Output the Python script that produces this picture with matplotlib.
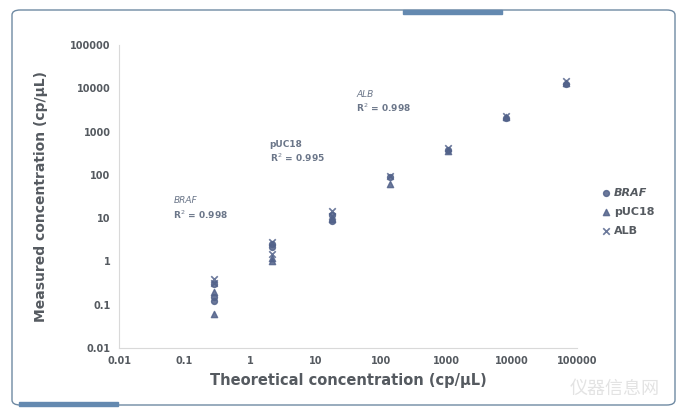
import matplotlib.pyplot as plt
from matplotlib.patches import FancyBboxPatch, Rectangle

# theoretical concentrations (dilution series)
braf_x = [0.28, 0.28, 0.28, 2.2, 2.2, 18, 18, 138, 1050, 8300, 69000]
braf_y = [0.3, 0.15, 0.12, 2.5, 2.2, 12, 8.5, 90, 380, 2100, 12500]

puc_x = [0.28, 0.28, 2.2, 2.2, 18, 138, 1050, 8300, 69000]
puc_y = [0.2, 0.06, 1.2, 1.0, 9.5, 60, 360, 2200, 13000]

alb_x = [0.28, 0.28, 2.2, 2.2, 18, 18, 138, 1050, 8300, 69000]
alb_y = [0.4, 0.32, 2.8, 1.5, 15, 11, 95, 410, 2300, 14500]

ticks = [0.01, 0.1, 1, 10, 100, 1000, 10000, 100000]
tick_labels = ["0.01", "0.1", "1", "10", "100", "1000", "10000", "100000"]

mcol = "#52628a"
tcol = "#555a60"
acol = "#6b7689"

fig = plt.figure(figsize=(6.87, 4.16), dpi=100)

# rounded frame and blue accent bars
fig.patches.append(FancyBboxPatch((12 / 687, 11 / 416), 663 / 687, 395 / 416,
                                  boxstyle="round,pad=0,rounding_size=0.012",
                                  transform=fig.transFigure, fill=False,
                                  edgecolor="#6f8aa3", linewidth=1.0))
fig.patches.append(Rectangle((403 / 687, 402 / 416), 99 / 687, 4 / 416,
                             transform=fig.transFigure, color="#6489b0"))
fig.patches.append(Rectangle((19 / 687, 10 / 416), 99 / 687, 4 / 416,
                             transform=fig.transFigure, color="#6489b0"))

ax = fig.add_axes([119 / 687, 68 / 416, 458 / 687, 303 / 416])
ax.set_xscale("log")
ax.set_yscale("log")
ax.set_xlim(0.01, 100000)
ax.set_ylim(0.01, 100000)

ax.scatter(braf_x, braf_y, marker="o", s=18, color=mcol, alpha=0.85, label="BRAF", zorder=3)
ax.scatter(puc_x, puc_y, marker="^", s=20, color=mcol, alpha=0.85, label="pUC18", zorder=3)
ax.scatter(alb_x, alb_y, marker="x", s=22, color=mcol, linewidths=1.2, alpha=0.85,
           label="ALB", zorder=3)

for s in ["top", "right"]:
    ax.spines[s].set_visible(False)
for s in ["left", "bottom"]:
    ax.spines[s].set_color("#d9d9d9")
ax.set_xticks(ticks)
ax.set_xticklabels(tick_labels)
ax.set_yticks(ticks)
ax.set_yticklabels(tick_labels)
ax.minorticks_off()
ax.tick_params(length=0, labelsize=7, labelcolor=tcol, pad=6)
for lab in ax.get_xticklabels() + ax.get_yticklabels():
    lab.set_fontweight("bold")

ax.set_xlabel("Theoretical concentration (cp/µL)", fontsize=10.5, fontweight="bold",
              color=tcol, labelpad=5)
ax.set_ylabel("Measured concentration (cp/µL)", fontsize=10, fontweight="bold",
              color=tcol, labelpad=16)

# R² annotations
ax.text(0.068, 25, "BRAF", style="italic", fontsize=6.5, color=acol, va="center")
ax.text(0.068, 12, "R$^2$ = 0.998", fontsize=6.5, color=acol, fontweight="bold", va="center")
ax.text(2.0, 500, "pUC18", fontsize=6.5, color=acol, fontweight="bold", va="center")
ax.text(2.0, 250, "R$^2$ = 0.995", fontsize=6.5, color=acol, fontweight="bold", va="center")
ax.text(42, 7300, "ALB", style="italic", fontsize=6.5, color=acol, va="center")
ax.text(42, 3600, "R$^2$ = 0.998", fontsize=6.5, color=acol, fontweight="bold", va="center")

leg = ax.legend(loc="center left", bbox_to_anchor=(1.03, 0.45), frameon=False,
                fontsize=8, handletextpad=0.2, labelspacing=0.8, handlelength=1.0)
for t in leg.get_texts():
    t.set_color(tcol)
    t.set_fontweight("bold")
leg.get_texts()[0].set_style("italic")

# faint watermark
fig.text(0.895, 0.065, "仪器信息网", fontsize=13, color="#e3e3e3",
         family=["Noto Sans CJK SC", "DejaVu Sans"], ha="center", va="center")

fig.savefig("out.png", dpi=100)
